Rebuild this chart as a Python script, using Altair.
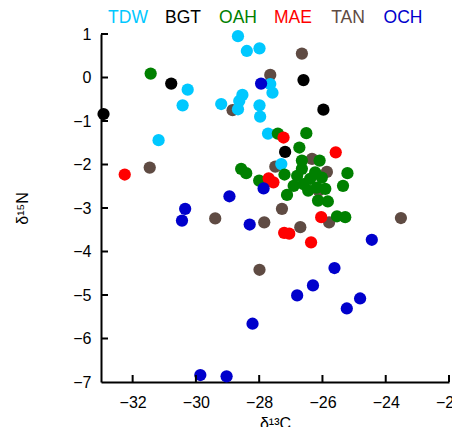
import altair as alt
import pandas as pd

groups = ["TDW", "BGT", "OAH", "MAE", "TAN", "OCH"]
colors = ["#00C8FF", "#000000", "#008000", "#FF0000", "#5F4B43", "#0000CC"]

tdw_x = [-28.67, -28.39, -27.99, -30.26, -30.42, -31.18, -29.20, -28.53, -28.63, -28.67, -27.65, -27.58, -27.99, -27.97, -27.72, -27.30]
tdw_y = [0.95, 0.61, 0.67, -0.28, -0.64, -1.44, -0.61, -0.40, -0.54, -0.73, -0.15, -0.35, -0.64, -0.90, -1.29, -1.99]

bgt_x = [-32.92, -30.78, -27.18, -26.60, -25.97]
bgt_y = [-0.84, -0.14, -1.71, -0.06, -0.74]

oah_x = [-31.43, -27.41, -26.51, -26.73, -28.57, -28.41, -28.00, -27.20, -25.21, -25.35, -27.12, -26.14, -25.83,
         -25.54, -25.28, -26.09, -26.65, -26.65, -26.23, -26.02, -26.39, -26.60, -26.91, -26.18, -25.91, -26.80, -26.45]
oah_y = [0.09, -1.29, -1.28, -1.61, -2.10, -2.20, -2.37, -2.23, -2.20, -2.49, -2.70, -2.83, -2.85,
         -3.19, -3.21, -1.91, -1.91, -2.10, -2.18, -2.30, -2.33, -2.45, -2.49, -2.53, -2.56, -2.26, -2.60]

mae_x = [-32.25, -27.23, -25.58, -27.70, -27.55, -26.04, -27.21, -27.05, -26.36]
mae_y = [-2.23, -1.38, -1.72, -2.32, -2.41, -3.21, -3.57, -3.59, -3.79]

tan_x = [-26.65, -27.65, -28.84, -31.46, -27.49, -26.33, -25.86, -26.12, -27.28, -29.39, -27.84, -26.70, -25.79, -23.52, -27.99]
tan_y = [0.55, 0.06, -0.75, -2.07, -2.05, -1.87, -2.17, -2.60, -3.02, -3.24, -3.33, -3.44, -3.33, -3.23, -4.42]

och_x = [-27.94, -28.94, -27.86, -30.34, -30.44, -28.30, -24.44, -28.21, -29.86, -29.03, -25.62, -26.30, -26.80, -24.81, -25.23]
och_y = [-0.14, -2.73, -2.55, -3.02, -3.29, -3.38, -3.73, -5.66, -6.84, -6.87, -4.38, -4.78, -5.01, -5.08, -5.31]

x_ticks = [-32, -30, -28, -26, -24, -22]
y_ticks = [1, 0, -1, -2, -3, -4, -5, -6, -7]

# drawing order: TAN underneath, OCH on top
order = [("TAN", tan_x, tan_y), ("TDW", tdw_x, tdw_y), ("BGT", bgt_x, bgt_y),
         ("OAH", oah_x, oah_y), ("MAE", mae_x, mae_y), ("OCH", och_x, och_y)]
rows = []
for g, xs, ys in order:
    for a, b in zip(xs, ys):
        rows.append({"group": g, "d13C": a, "d15N": b})
df = pd.DataFrame(rows)

W, H = 348, 348
FONT = "Liberation Sans"

xscale = alt.Scale(domain=[-33, -22], nice=False, zero=False)
yscale = alt.Scale(domain=[-7, 1], nice=False, zero=False)
cscale = alt.Scale(domain=groups, range=colors)

xaxis = alt.Axis(values=x_ticks, ticks=False, grid=False, domainColor="black", domainWidth=2,
                 labelFont=FONT, labelFontSize=16, labelColor="black", labelPadding=12, labelFlush=False,
                 title="δ¹³C", titleFont=FONT, titleFontSize=16, titleFontWeight="normal",
                 titleColor="black", titlePadding=5)
yaxis = alt.Axis(values=y_ticks, ticks=False, grid=False, domainColor="black", domainWidth=2,
                 labelFont=FONT, labelFontSize=16, labelColor="black", labelPadding=10, labelFlush=False,
                 title="δ¹⁵N", titleFont=FONT, titleFontSize=16, titleFontWeight="normal",
                 titleColor="black", titlePadding=42)

points = alt.Chart(df).mark_circle(size=150, opacity=1).encode(
    x=alt.X("d13C:Q", scale=xscale, axis=xaxis),
    y=alt.Y("d15N:Q", scale=yscale, axis=yaxis),
    color=alt.Color("group:N", scale=cscale, legend=None),
)

xt = alt.Chart(pd.DataFrame({"d13C": x_ticks})).mark_rule(color="black", strokeWidth=2).encode(
    x=alt.X("d13C:Q", scale=xscale, axis=None), y=alt.value(H), y2=alt.value(H - 7))
yt = alt.Chart(pd.DataFrame({"d15N": y_ticks[:-1]})).mark_rule(color="black", strokeWidth=2).encode(
    y=alt.Y("d15N:Q", scale=yscale, axis=yaxis), x=alt.value(0), x2=alt.value(7))

legend = alt.Chart(pd.DataFrame({"group": groups})).mark_text(
    font=FONT, fontSize=17.5, baseline="middle", align="center").encode(
    x=alt.X("group:N", sort=groups, scale=alt.Scale(range=[27, 302], padding=0), axis=None),
    y=alt.value(-16),
    text="group:N",
    color=alt.Color("group:N", scale=cscale, legend=None),
)

chart = alt.layer(points, xt, yt, legend).resolve_scale(x="independent").properties(
    width=W, height=H,
    autosize=alt.AutoSizeParams(type="none"),
    padding={"left": 93, "top": 26, "right": 3, "bottom": 45},
).configure_view(stroke=None)

chart.save("out.html", embed_options={"renderer": "svg", "actions": False})
